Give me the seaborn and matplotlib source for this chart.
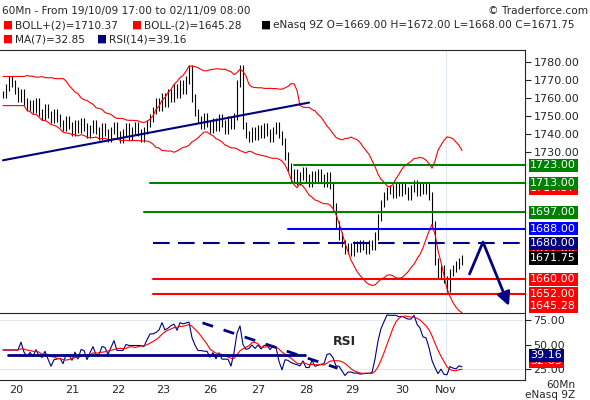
import numpy as np
import pandas as pd
import seaborn as sns
import matplotlib.pyplot as plt

sns.set_style("white")
plt.rcParams['font.family'] = ['DejaVu Sans']

closes = [1762, 1766, 1770, 1768, 1764, 1760, 1763, 1758, 1755, 1757,
          1754, 1758, 1752, 1750, 1755, 1751, 1748, 1752, 1749, 1746,
          1744, 1748, 1745, 1741, 1746, 1743, 1747, 1744, 1740, 1743,
          1746, 1742, 1739, 1744, 1741, 1738, 1742, 1745, 1740, 1737,
          1741, 1744, 1739, 1742, 1745, 1741, 1738, 1742, 1746, 1749,
          1753, 1758, 1755, 1761, 1757, 1763, 1760, 1766, 1762, 1768,
          1764, 1770, 1776, 1760, 1752, 1748, 1745, 1750, 1746, 1743,
          1747, 1744, 1749, 1746, 1742, 1748, 1745, 1750, 1768, 1776,
          1745, 1740, 1738, 1742, 1739, 1743, 1740, 1744, 1741, 1738,
          1742, 1745, 1740, 1736, 1728, 1722, 1716, 1719, 1714, 1717,
          1720, 1716, 1713, 1718, 1715, 1719, 1716, 1713, 1717, 1712,
          1700, 1690, 1684, 1680, 1676, 1678, 1675, 1679, 1677, 1680,
          1678, 1676, 1680, 1678, 1684, 1694, 1702, 1706, 1709, 1710,
          1707, 1711, 1708, 1712, 1709, 1706, 1710, 1713, 1708, 1711,
          1709, 1712, 1706, 1690, 1670, 1662, 1666, 1660, 1655, 1664,
          1666, 1668, 1670, 1671.75]

day_labels = ["20", "21", "22", "23", "26", "27", "28", "29", "30", "Nov"]
day_bars = [4.5, 23, 38.5, 53.5, 69, 85, 101, 116.5, 133, 147.5]

levels = [1723, 1713, 1697, 1688, 1680, 1660, 1652]
level_start = [97, 49, 47, 95, 50, 50, 50]
level_col = ["green", "green", "green", "blue", "navy", "red", "red"]
level_ls = ["-", "-", "-", "-", "--", "-", "-"]

trend_x = [0, 102]
trend_y = [1725.7, 1757.5]
arrow_x = [155.5, 160, 169]
arrow_y = [1663, 1680.6, 1644]

rsi_hline_x = [1.5, 100.5]
rsi_hline_y = [39, 39]
rsi_dash_x = [66.5, 111.5]
rsi_dash_y = [72, 26]

df = pd.DataFrame({"c": closes})
df["i"] = np.arange(len(df))
df["o"] = df["c"].shift(1).fillna(df["c"])
df["h"] = df[["o", "c"]].max(axis=1) + 2
df["l"] = df[["o", "c"]].min(axis=1) - 2
mid = df["c"].rolling(20, min_periods=8).mean().bfill()
sd = df["c"].rolling(20, min_periods=8).std().bfill()
df["bu"] = mid + 2 * sd
df["bl"] = mid - 2 * sd
d = df["c"].diff().fillna(0)
up = d.clip(lower=0).rolling(14, min_periods=1).mean()
dn = (-d.clip(upper=0)).rolling(14, min_periods=1).mean()
df["rsi"] = (100 - 100 / (1 + up / dn.replace(0, 1e-9)))
df.loc[:4, "rsi"] = np.nan
df["rsi"] = df["rsi"].bfill()
df["ma"] = df["rsi"].rolling(7, min_periods=1).mean()

fig = plt.figure(figsize=(5.9, 4.0), dpi=100)
ax = fig.add_axes([0, 87 / 400, 525 / 590, 263 / 400])
ax2 = fig.add_axes([0, 20 / 400, 525 / 590, 67 / 400], sharex=ax)

ax.vlines(df["i"], df["l"], df["h"], color="black", lw=0.8)
sns.lineplot(data=df, x="i", y="bu", ax=ax, color="red", lw=0.8)
sns.lineplot(data=df, x="i", y="bl", ax=ax, color="red", lw=0.8)
for lv, s, c, ls in zip(levels, level_start, level_col, level_ls):
    ax.plot([s, 175], [lv, lv], color=c, ls=ls, lw=1.5, dashes=(8, 4) if ls == "--" else (None, None))
ax.plot(trend_x, trend_y, color="navy", lw=1.5)
ax.plot(arrow_x[:2], arrow_y[:2], color="navy", lw=2)
ax.annotate("", xy=(arrow_x[2], arrow_y[2]), xytext=(arrow_x[1], arrow_y[1]),
            arrowprops=dict(arrowstyle="-|>,head_width=0.4,head_length=0.8", color="navy", lw=2))
ax.axvline(147.5, color="#dde8f0", lw=0.8, zorder=0)
ax.set_xlim(-1, 174)
ax.set_ylim(1641.5, 1786.5)
ax.yaxis.tick_right()
ax.set_yticks([1780, 1770, 1760, 1750, 1740, 1730])
ax.set_yticklabels(["1780.00", "1770.00", "1760.00", "1750.00", "1740.00", "1730.00"], fontsize=8)
ax.tick_params(axis="x", length=0, labelbottom=False)
ax.tick_params(axis="y", direction="out", length=4, pad=2)
ax.set_xlabel("")
ax.set_ylabel("")
for sp in ["left", "bottom"]:
    ax.spines[sp].set_visible(False)

boxes = [(1723, "1723.00", "green"), (1710.37, "1710.37", "red"), (1713, "1713.00", "green"),
         (1697, "1697.00", "green"), (1688, "1688.00", "blue"), (1677, "1677.00", "red"),
         (1680, "1680.00", "navy"), (1671.75, "1671.75", "black"), (1660, "1660.00", "red"),
         (1652, "1652.00", "red"), (1645.28, "1645.28", "red")]
for y, t, c in boxes:
    ax.text(1.01, y, t, transform=ax.get_yaxis_transform(), color="white", fontsize=8,
            va="center", ha="left", bbox=dict(boxstyle="square,pad=0.15", fc=c, ec="none"))

sns.lineplot(data=df, x="i", y="rsi", ax=ax2, color="navy", lw=0.8)
sns.lineplot(data=df, x="i", y="ma", ax=ax2, color="red", lw=0.8)
ax2.plot(rsi_hline_x, rsi_hline_y, color="navy", lw=2)
ax2.plot(rsi_dash_x, rsi_dash_y, color="navy", lw=2, ls="--", dashes=(4, 4))
ax2.text(110, 50, "RSI", fontsize=9, fontweight="bold")
for v in [75, 25]:
    ax2.axhline(v, color="#dde8f0", lw=0.8, zorder=0)
ax2.axvline(147.5, color="#dde8f0", lw=0.8, zorder=0)
ax2.set_ylim(14, 82)
ax2.yaxis.tick_right()
ax2.set_yticks([75, 50, 25])
ax2.set_yticklabels(["75.00", "50.00", "25.00"], fontsize=8)
ax2.set_xticks(day_bars)
ax2.set_xticklabels(day_labels, fontsize=8)
ax2.tick_params(axis="x", length=3, direction="in")
ax2.tick_params(axis="y", direction="out", length=4, pad=2)
ax2.set_xlabel("")
ax2.set_ylabel("")
ax2.spines["left"].set_visible(False)
for y, t, c in [(39.16, "39.16", "navy"), (32.85, "32.85", "red")][::-1]:
    ax2.text(1.01, y, t, transform=ax2.get_yaxis_transform(), color="white", fontsize=8,
             va="center", ha="left", bbox=dict(boxstyle="square,pad=0.15", fc=c, ec="none"))

fs = 7.6
fig.text(0.003, 0.985, "60Mn - From 19/10/09 17:00 to 02/11/09 08:00", fontsize=fs, va="top")
fig.text(0.997, 0.985, "© Traderforce.com", fontsize=fs, va="top", ha="right")
leg = [(0.003, 0.95, "red", "BOLL+(2)=1710.37"), (0.222, 0.95, "red", "BOLL-(2)=1645.28"),
       (0.44, 0.95, "black", "eNasq 9Z O=1669.00 H=1672.00 L=1668.00 C=1671.75"),
       (0.003, 0.915, "red", "MA(7)=32.85"), (0.162, 0.915, "navy", "RSI(14)=39.16")]
for x, y, c, t in leg:
    fig.text(x, y, "■", color=c, fontsize=fs, va="top")
    fig.text(x + 0.022, y, t, fontsize=fs, va="top")
fig.text(0.975, 0.05, "60Mn", fontsize=fs, ha="right", va="top")
fig.text(0.975, 0.025, "eNasq 9Z", fontsize=fs, ha="right", va="top")

fig.savefig("out.png", dpi=100)
